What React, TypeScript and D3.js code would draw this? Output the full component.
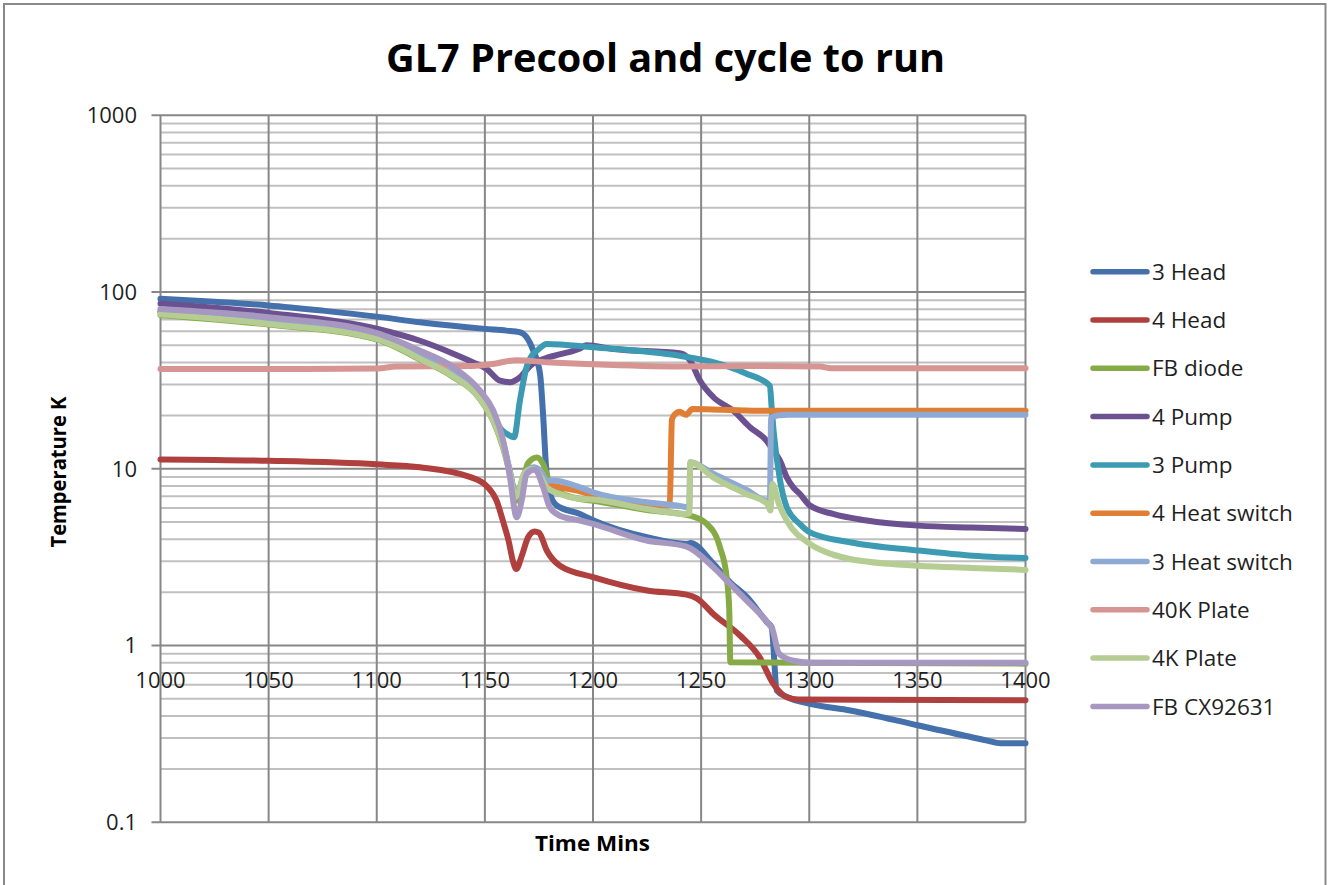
import React, { useRef, useEffect } from "react";
import * as d3 from "d3";

type Pt = [number, number];

// x axis (minutes) and y axis (kelvin, log) ticks
const timeTicks = [1000, 1050, 1100, 1150, 1200, 1250, 1300, 1350, 1400];
const tempTicks = [0.1, 1, 10, 100, 1000];
const tempTickLabels = ["0.1", "1", "10", "100", "1000"];

const seriesNames = [
  "3 Head",
  "4 Head",
  "FB diode",
  "4 Pump",
  "3 Pump",
  "4 Heat switch",
  "3 Heat switch",
  "40K Plate",
  "4K Plate",
  "FB CX92631",
];

const seriesColors = [
  "#4470AC",
  "#B0403D",
  "#86AA45",
  "#6C5191",
  "#3C9AB2",
  "#E07E35",
  "#8EA9D4",
  "#D69492",
  "#B5CC92",
  "#A698C1",
];

// [time, temperature]
const head3: Pt[] = [
  [1000, 91.5], [1025, 88], [1050, 84], [1075, 78.5], [1100, 72.6], [1120, 67.4],
  [1150, 61.9], [1160, 60.5], [1166, 59.3], [1169.3, 55.5], [1172.4, 46.5],
  [1175.5, 34.5], [1177, 19.5], [1178.3, 10.2], [1179.3, 7.85], [1183.2, 6.2],
  [1194, 5.55], [1200.3, 5.1], [1225, 4.1], [1243.5, 3.76], [1245, 3.8],
  [1255.7, 2.9], [1263.4, 2.28], [1271.2, 1.88], [1280.4, 1.36], [1282.6, 1.27],
  [1285, 0.556], [1290, 0.51], [1300.5, 0.468], [1319, 0.429], [1350.6, 0.353],
  [1382.3, 0.29], [1388.4, 0.28], [1400, 0.28],
];

const head4: Pt[] = [
  [1000, 11.3], [1050, 11.1], [1100, 10.6], [1120, 10.2], [1143, 9.0],
  [1150.8, 8.0], [1155.4, 6.6], [1158.5, 5.0], [1161, 3.9], [1163, 3.0],
  [1164.5, 2.71], [1167, 3.2], [1170, 4.1], [1173, 4.42], [1175, 4.35],
  [1178.6, 3.45], [1184.7, 2.83], [1200, 2.44], [1225, 2.05], [1243.3, 1.94],
  [1248, 1.85], [1255.6, 1.51], [1268, 1.14], [1277, 0.86], [1283.4, 0.607],
  [1289.6, 0.51], [1295, 0.495], [1400, 0.49],
];

const fbDiode: Pt[] = [
  [1000, 74], [1050, 65.5], [1100, 54], [1120, 41.5], [1135, 33.3],
  [1148, 24.6], [1154, 18.5], [1158.5, 13.1], [1162, 9], [1164.7, 6.6],
  [1167, 8], [1170, 10.8], [1174, 11.6], [1177, 10.6], [1179.5, 8.6],
  [1181.6, 7.7], [1194, 6.75], [1200, 6.6], [1225, 5.85], [1244.9, 5.43],
  [1252.6, 4.88], [1258.7, 3.6], [1261.8, 2.44], [1263, 1.6], [1263.5, 0.805],
  [1300, 0.8], [1400, 0.79],
];

const pump4: Pt[] = [
  [1000, 86], [1050, 76.2], [1100, 62], [1120, 53], [1135.4, 44.8],
  [1144.6, 40], [1150.8, 36.7], [1157, 31.5], [1161.6, 30.9], [1166.2, 32.9],
  [1170.9, 38.2], [1178.6, 42.5], [1185, 44.5], [1194, 48], [1197, 50],
  [1209.4, 47.6], [1240, 45], [1244.9, 41], [1249.5, 31.5], [1255.7, 25.4],
  [1264.9, 21.3], [1272.6, 17.2], [1280.3, 14.4], [1283.4, 12.7], [1286.5, 11.1],
  [1289.6, 8.95], [1292.6, 7.85], [1295.7, 7.2], [1300.3, 6.2], [1311, 5.55],
  [1326.6, 5.1], [1350.4, 4.77], [1375, 4.65], [1400, 4.57],
];

const pump3: Pt[] = [
  [1000, 78], [1050, 69.5], [1100, 57], [1120, 45], [1135, 36], [1147.7, 26.5],
  [1153.9, 20.3], [1157, 17], [1160, 15.8], [1163.5, 15.1], [1166.2, 24.3],
  [1169.3, 37.6], [1172.4, 44.8], [1174, 46.5], [1178.6, 50.9], [1200, 48.7],
  [1240, 43.6], [1255.6, 40.1], [1271, 34.5], [1281.8, 29.5], [1282.6, 22.3],
  [1283.5, 16.4], [1286.5, 8.6], [1289.6, 6.06], [1295.6, 4.88], [1300.3, 4.37],
  [1318.8, 3.84], [1350.4, 3.45], [1380.5, 3.19], [1400, 3.13],
];

const heatSwitch4: Pt[] = [
  [1000, 77], [1050, 68.5], [1100, 56], [1120, 43.5], [1135, 35],
  [1147.7, 26], [1153.9, 19.7], [1158.5, 13.8], [1161.5, 9.7], [1164, 7.3],
  [1166, 7.7], [1168.5, 9.4], [1172.5, 10.1], [1175.5, 9.6], [1178.6, 8.3],
  [1184, 7.9], [1194, 7.45], [1200, 7.1], [1215, 6.6], [1234.5, 6.2],
  [1235.5, 6.3], [1236.5, 19], [1238, 20.4], [1240, 21], [1243, 20.2],
  [1246, 21.8], [1260, 21.6], [1280, 21.3], [1400, 21.3],
];

const heatSwitch3: Pt[] = [
  [1000, 77.5], [1050, 69], [1100, 56.5], [1120, 44], [1135, 35.5],
  [1147.7, 26.3], [1153.9, 20], [1158.5, 14], [1161.5, 9.8], [1164, 7.4],
  [1166, 7.8], [1168.5, 9.5], [1172.5, 10.2], [1175.5, 9.8], [1178.6, 8.6],
  [1181.6, 8.6], [1194, 7.85], [1200, 7.37], [1225, 6.46], [1243.3, 6.06],
  [1244.5, 6.0], [1245, 10.9], [1255.6, 9.37], [1271, 7.6], [1280.6, 6.6],
  [1281.8, 6.7], [1282.4, 19.5], [1286, 20.1], [1290, 20.2], [1400, 20.2],
];

const plate40K: Pt[] = [
  [1000, 36.7], [1050, 36.7], [1100, 36.9], [1109, 37.9], [1144.6, 38.2],
  [1152.4, 39], [1164.7, 41.1], [1178.6, 40.1], [1200, 39], [1240, 37.9],
  [1270, 38.2], [1305, 37.9], [1310, 37.1], [1400, 37.1],
];

const plate4K: Pt[] = [
  [1000, 74.8], [1050, 66], [1100, 54.4], [1110, 48.5], [1120, 41.9],
  [1135, 33.6], [1147.7, 24.9], [1153.9, 18.7], [1158.5, 13.3], [1161.5, 9.5],
  [1164, 6.9], [1166, 7.6], [1168, 9.37], [1172.5, 10], [1175.5, 9.2],
  [1178.6, 7.85], [1184.7, 7.2], [1194, 6.75], [1200, 6.7], [1225, 5.93],
  [1243.3, 5.55], [1244.5, 5.6], [1245, 10.9], [1255.6, 8.95], [1271, 7.2],
  [1280.6, 6.33], [1282, 5.8], [1283, 8.2], [1286, 6.3], [1289.6, 5.1],
  [1300.3, 3.76], [1310, 3.3], [1318.8, 3.09], [1350.4, 2.83], [1375, 2.75],
  [1400, 2.68],
];

const fbCX: Pt[] = [
  [1000, 80.3], [1050, 72.1], [1100, 58.5], [1120, 46.5], [1135.4, 37.6],
  [1147.7, 27.7], [1153.9, 21.3], [1158.5, 14.4], [1161.6, 8.95], [1164.7, 5.32],
  [1167, 6.6], [1169.3, 9.37], [1173.2, 9.9], [1177, 7.85], [1180, 6.06],
  [1184.7, 5.43], [1194, 5.1], [1200, 4.88], [1224.8, 3.93], [1243.3, 3.63],
  [1255.7, 2.77], [1263.4, 2.23], [1271, 1.8], [1281.8, 1.3], [1282.8, 1.25],
  [1286, 0.9], [1292.6, 0.82], [1300, 0.8], [1400, 0.8],
];

const seriesData: Pt[][] = [
  head3, head4, fbDiode, pump4, pump3, heatSwitch4, heatSwitch3, plate40K, plate4K, fbCX,
];

const W = 1330;
const H = 885;
const FONT = "'Open Sans', 'DejaVu Sans', sans-serif";

const App = () => {
  const svgRef = useRef<SVGSVGElement>(null);

  useEffect(() => {
    const svg = d3.select(svgRef.current);
    svg.selectAll("*").remove();

    const left = 160.5;
    const right = 1025.5;
    const top = 115.3;
    const bottom = 822.3;

    const x = d3.scaleLinear().domain([1000, 1400]).range([left, right]);
    const y = d3.scaleLog().domain([0.1, 1000]).range([bottom, top]);

    svg
      .append("rect")
      .attr("x", 0)
      .attr("y", 0)
      .attr("width", W)
      .attr("height", H)
      .attr("fill", "#fff");

    svg
      .append("rect")
      .attr("x", 4)
      .attr("y", 4)
      .attr("width", 1321.5)
      .attr("height", H + 10)
      .attr("fill", "none")
      .attr("stroke", "#8a8a8a")
      .attr("stroke-width", 2);

    const minor: number[] = [];
    [0.1, 1, 10, 100].forEach((d) => {
      for (let k = 2; k <= 9; k++) minor.push(d * k);
    });

    const grid = svg.append("g");
    grid
      .selectAll(".minor")
      .data(minor)
      .enter()
      .append("line")
      .attr("x1", left)
      .attr("x2", right)
      .attr("y1", (d) => y(d))
      .attr("y2", (d) => y(d))
      .attr("stroke", "#c0c0c0")
      .attr("stroke-width", 2);

    grid
      .selectAll(".vgrid")
      .data(timeTicks)
      .enter()
      .append("line")
      .attr("x1", (d) => x(d))
      .attr("x2", (d) => x(d))
      .attr("y1", top)
      .attr("y2", bottom)
      .attr("stroke", "#878787")
      .attr("stroke-width", 2);

    grid
      .selectAll(".major")
      .data(tempTicks)
      .enter()
      .append("line")
      .attr("x1", left - 9)
      .attr("x2", right)
      .attr("y1", (d) => y(d))
      .attr("y2", (d) => y(d))
      .attr("stroke", "#878787")
      .attr("stroke-width", 2);

    // y tick labels
    svg
      .append("g")
      .selectAll("text")
      .data(tempTicks)
      .enter()
      .append("text")
      .attr("x", 137)
      .attr("y", (d) => y(d))
      .attr("dy", "0.36em")
      .attr("text-anchor", "end")
      .attr("font-family", FONT)
      .attr("font-size", 22)
      .attr("fill", "#1f1f1f")
      .text((d, i) => tempTickLabels[i]);

    // x tick labels, axis crosses at 1 K
    svg
      .append("g")
      .selectAll("text")
      .data(timeTicks)
      .enter()
      .append("text")
      .attr("x", (d) => x(d))
      .attr("y", y(1) + 42.5)
      .attr("text-anchor", "middle")
      .attr("font-family", FONT)
      .attr("font-size", 22)
      .attr("fill", "#1f1f1f")
      .text((d) => d);

    const line = d3
      .line<Pt>()
      .x((d) => x(d[0]))
      .y((d) => y(d[1]))
      .curve(d3.curveMonotoneX);

    svg
      .append("g")
      .selectAll("path")
      .data(seriesData)
      .enter()
      .append("path")
      .attr("d", (d) => line(d))
      .attr("fill", "none")
      .attr("stroke", (d, i) => seriesColors[i])
      .attr("stroke-width", 6)
      .attr("stroke-linejoin", "round")
      .attr("stroke-linecap", "round");

    // title and axis titles
    svg
      .append("text")
      .attr("x", 665.5)
      .attr("y", 72)
      .attr("text-anchor", "middle")
      .attr("font-family", FONT)
      .attr("font-weight", "bold")
      .attr("font-size", 40)
      .attr("textLength", 559)
      .attr("lengthAdjust", "spacingAndGlyphs")
      .text("GL7 Precool and cycle to run");

    svg
      .append("text")
      .attr("x", 592.5)
      .attr("y", 851)
      .attr("text-anchor", "middle")
      .attr("font-family", FONT)
      .attr("font-weight", "bold")
      .attr("font-size", 21)
      .attr("textLength", 115)
      .attr("lengthAdjust", "spacingAndGlyphs")
      .text("Time Mins");

    svg
      .append("text")
      .attr("transform", "translate(66,472) rotate(-90)")
      .attr("text-anchor", "middle")
      .attr("font-family", FONT)
      .attr("font-weight", "bold")
      .attr("font-size", 21)
      .attr("textLength", 151)
      .attr("lengthAdjust", "spacingAndGlyphs")
      .text("Temperature K");

    // legend
    const legend = svg
      .append("g")
      .selectAll("g")
      .data(seriesNames)
      .enter()
      .append("g")
      .attr("transform", (d, i) => `translate(0,${271.7 + i * 48.3})`);

    legend
      .append("line")
      .attr("x1", 1093)
      .attr("x2", 1147)
      .attr("stroke", (d, i) => seriesColors[i])
      .attr("stroke-width", 5.5)
      .attr("stroke-linecap", "round");

    legend
      .append("text")
      .attr("x", 1152)
      .attr("dy", "0.36em")
      .attr("font-family", FONT)
      .attr("font-size", 22.5)
      .attr("fill", "#1f1f1f")
      .text((d) => d);
  }, []);

  return (
    <div style={{ position: "absolute", left: 0, top: 0 }}>
      <svg ref={svgRef} width={W} height={H} style={{ display: "block" }}></svg>
    </div>
  );
};

export default App;
